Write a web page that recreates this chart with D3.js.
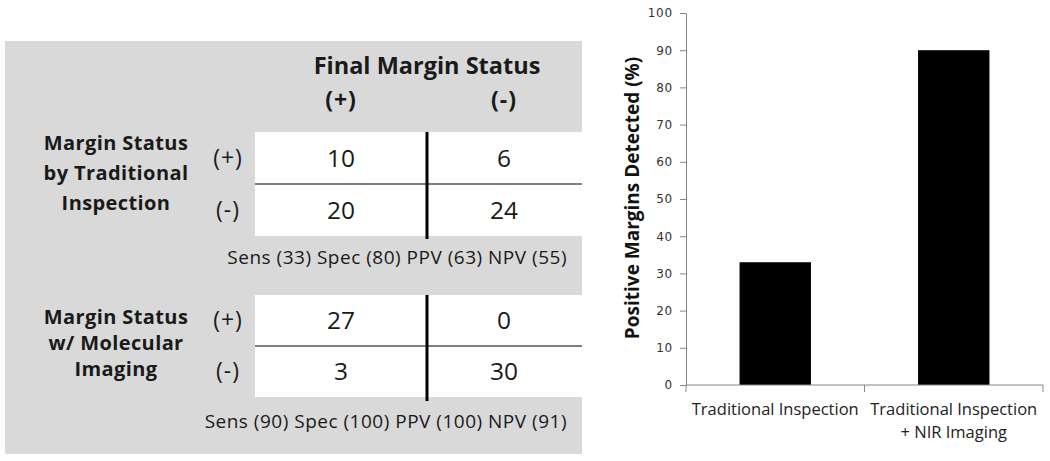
<!DOCTYPE html>
<html>
<head>
<meta charset="utf-8">
<script src="https://cdn.jsdelivr.net/npm/d3@7"></script>
<style>
  body { margin: 0; background: #fff; }
  svg { display: block; }
</style>
</head>
<body>
<div id="chart"></div>
<script>
// table data
const finalStatus = ['(+)', '(-)'];
const rowStatus = ['(+)', '(-)'];
const traditionalLabel = ['Margin Status', 'by Traditional', 'Inspection'];
const molecularLabel = ['Margin Status', 'w/ Molecular', 'Imaging'];
const traditionalCounts = [[10, 6], [20, 24]];
const molecularCounts = [[27, 0], [3, 30]];
const traditionalStats = 'Sens (33) Spec (80) PPV (63) NPV (55)';
const molecularStats = 'Sens (90) Spec (100) PPV (100) NPV (91)';

// bar chart data
const categories = ['Traditional Inspection', 'Traditional Inspection|+ NIR Imaging'];
const detected = [33, 90];
const yTicks = [0, 10, 20, 30, 40, 50, 60, 70, 80, 90, 100];

const W = 1050, H = 461;
const tableFont = "'Open Sans', Lato, sans-serif";
const ink = '#1a1a1a';

const svg = d3.select('#chart').append('svg')
  .attr('width', W)
  .attr('height', H);

// ---- left panel: contingency tables ----
const panel = svg.append('g');
panel.append('rect')
  .attr('x', 5).attr('y', 41)
  .attr('width', 577).attr('height', 413)
  .attr('fill', '#d9d9d9');

const colX = d3.scaleOrdinal().domain([0, 1]).range([341, 504]);

panel.append('text')
  .attr('x', 427).attr('y', 74)
  .attr('text-anchor', 'middle')
  .style('font-family', tableFont)
  .style('font-weight', '700')
  .style('font-size', '23.5px')
  .attr('fill', ink)
  .text('Final Margin Status');

panel.selectAll('.colhead')
  .data(finalStatus)
  .enter().append('text')
  .attr('x', (d, i) => colX(i))
  .attr('y', 108)
  .attr('text-anchor', 'middle')
  .style('font-family', tableFont)
  .style('font-weight', '700')
  .style('font-size', '23px')
  .style('letter-spacing', '1px')
  .attr('fill', ink)
  .text(d => d);

function drawBlock(g, top, rowH, labels, labelY0, labelStep, counts, stats, statsY, lineBottom) {
  const rowY = d3.scaleBand().domain([0, 1]).range([top, top + 2 * rowH]);

  g.append('rect')
    .attr('x', 255).attr('y', top)
    .attr('width', 327).attr('height', 2 * rowH)
    .attr('fill', '#fff');

  // separator lines
  g.append('line')
    .attr('x1', 255).attr('x2', 582)
    .attr('y1', top + rowH).attr('y2', top + rowH)
    .attr('stroke', '#000').attr('stroke-width', 1.2);
  g.append('line')
    .attr('x1', 427).attr('x2', 427)
    .attr('y1', top).attr('y2', lineBottom)
    .attr('stroke', '#000').attr('stroke-width', 3);

  g.selectAll('.lab')
    .data(labels)
    .enter().append('text')
    .attr('x', 116)
    .attr('y', (d, i) => labelY0 + i * labelStep)
    .attr('text-anchor', 'middle')
    .style('font-family', tableFont)
    .style('font-weight', '700')
    .style('font-size', '20px')
    .style('letter-spacing', '0.4px')
    .attr('fill', ink)
    .text(d => d);

  g.selectAll('.rs')
    .data(rowStatus)
    .enter().append('text')
    .attr('x', 228)
    .attr('y', (d, i) => rowY(i) + rowH / 2)
    .attr('dy', '0.33em')
    .attr('text-anchor', 'middle')
    .style('font-family', tableFont)
    .style('font-size', '23px')
    .style('letter-spacing', '1px')
    .attr('fill', ink)
    .text(d => d);

  counts.forEach((row, r) => {
    g.selectAll('.c' + r)
      .data(row)
      .enter().append('text')
      .attr('x', (d, i) => colX(i))
      .attr('y', rowY(r) + rowH / 2)
      .attr('dy', '0.36em')
      .attr('text-anchor', 'middle')
      .style('font-family', tableFont)
      .style('font-size', '24.5px')
      .attr('fill', ink)
      .text(d => d);
  });

  g.append('text')
    .attr('x', 567).attr('y', statsY)
    .attr('text-anchor', 'end')
    .style('font-family', tableFont)
    .style('font-size', '19px')
    .style('letter-spacing', '0.5px')
    .attr('fill', ink)
    .text(stats);
}

drawBlock(panel, 132, 52, traditionalLabel, 150, 30, traditionalCounts, traditionalStats, 264, 239);
drawBlock(panel, 295, 51, molecularLabel, 324, 26, molecularCounts, molecularStats, 428, 401);

// ---- right panel: bar chart ----
const margin = {top: 13, right: 7, bottom: 76, left: 686};
const width = W - margin.left - margin.right;
const height = H - margin.top - margin.bottom;

const chart = svg.append('g')
  .attr('transform', 'translate(' + margin.left + ',' + margin.top + ')');

const x = d3.scaleBand()
  .domain(categories)
  .range([0, width])
  .paddingInner(0.6)
  .paddingOuter(0.3);

const y = d3.scaleLinear()
  .domain([0, 100])
  .range([height, 0]);

const axisColor = '#868686';
const tickFont = "'DejaVu Sans', Verdana, sans-serif";

const yAxis = chart.append('g')
  .call(d3.axisLeft(y).tickValues(yTicks).tickSize(6).tickPadding(7));
yAxis.select('.domain').attr('stroke', axisColor);
yAxis.selectAll('.tick line').attr('stroke', axisColor);
yAxis.selectAll('.tick text')
  .attr('fill', '#333')
  .style('font-family', tickFont)
  .style('font-size', '12px')
  .style('letter-spacing', '0.8px');

// bars
chart.selectAll('.bar')
  .data(detected)
  .enter().append('rect')
  .attr('x', (d, i) => x(categories[i]))
  .attr('y', d => y(d))
  .attr('width', x.bandwidth())
  .attr('height', d => height - y(d))
  .attr('fill', '#000');

// x axis with ticks at category boundaries
const xAxisG = chart.append('g')
  .attr('transform', 'translate(0,' + height + ')');
xAxisG.append('line')
  .attr('x1', 0).attr('x2', width)
  .attr('stroke', axisColor);
xAxisG.selectAll('.xt')
  .data(d3.range(categories.length + 1))
  .enter().append('line')
  .attr('x1', d => d * x.step())
  .attr('x2', d => d * x.step())
  .attr('y1', 0).attr('y2', 7)
  .attr('stroke', axisColor);

const xLabels = xAxisG.selectAll('.xl')
  .data(categories)
  .enter().append('text')
  .attr('x', d => x(d) + x.bandwidth() / 2)
  .attr('y', 30)
  .attr('text-anchor', 'middle')
  .style('font-family', tableFont)
  .style('font-size', '16.5px')
  .attr('fill', '#222');
xLabels.selectAll('tspan')
  .data(d => d.split('|'))
  .enter().append('tspan')
  .attr('x', function() { return this.parentNode.getAttribute('x'); })
  .attr('dy', (d, i) => i === 0 ? 0 : 23)
  .text(d => d);

chart.append('text')
  .attr('transform', 'translate(' + (632 - margin.left) + ',' + (198 - margin.top) + ') rotate(-90)')
  .attr('text-anchor', 'middle')
  .attr('dy', '0.35em')
  .style('font-family', tableFont)
  .style('font-weight', '700')
  .style('font-size', '19px')
  .attr('fill', '#111')
  .text('Positive Margins Detected (%)');
</script>
</body>
</html>
